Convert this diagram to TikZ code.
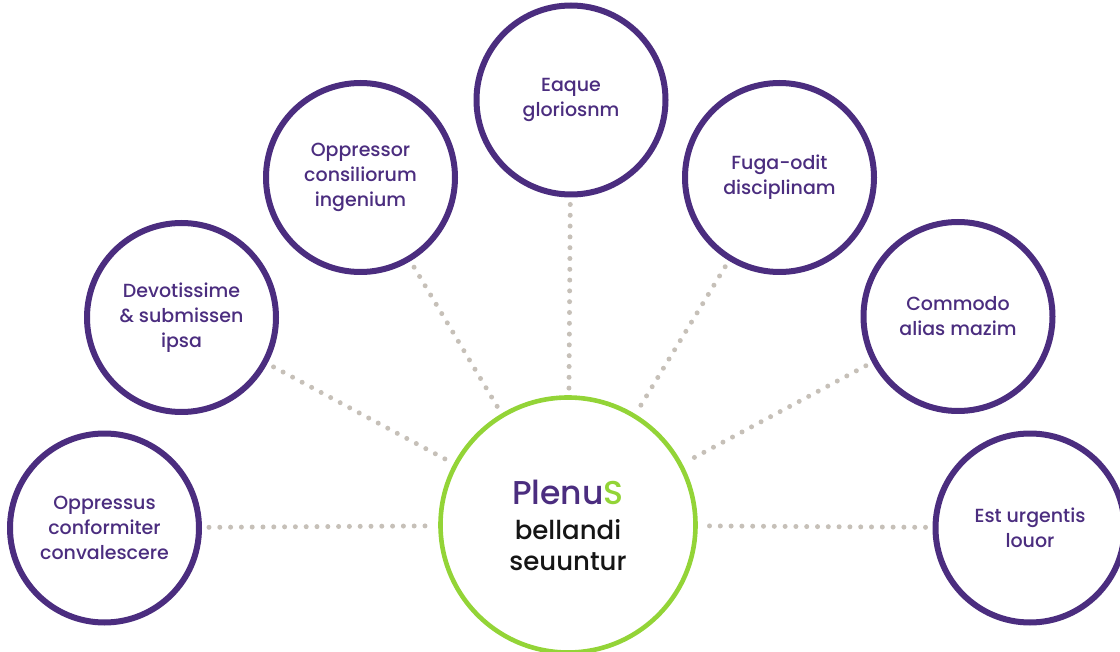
\documentclass[tikz,border=0pt]{standalone}
\usepackage{fontspec}
\setmainfont{Poppins Medium}

\definecolor{plum}{HTML}{4B2D7F}
\definecolor{lime}{HTML}{93D437}
\definecolor{pebble}{HTML}{C6C0B8}
\definecolor{ink}{HTML}{151515}

\begin{document}
\begin{tikzpicture}[x=1pt,y=-1pt,line join=round,
	topic/.style={circle,draw=plum,fill=white,line width=6pt,minimum size=189pt,inner sep=0pt,
		text=plum,align=center,font=\fontsize{19}{25}\selectfont},
	hub/.style={circle,draw=lime,fill=white,line width=4.6pt,minimum size=255pt,inner sep=0pt,
		text=ink,align=center,font=\fontsize{26}{31}\selectfont},
	link/.style={pebble,line width=5pt,line cap=round,dash pattern=on 0pt off 10.8pt,
		shorten <=7pt,shorten >=7pt}]
	\useasboundingbox (0,0) rectangle (1120,652);
	% centre
	\node[hub] (hub) at (568,525) {{\fontsize{33}{35}\selectfont\color{plum}Plenu\textcolor{lime}{S}}\\[4pt]bellandi\\seuuntur};
	% ring of topics
	\foreach \n/\x/\y/\t in {
		t1/104.5/528/{Oppressus\\conformiter\\convalescere},
		t2/181.5/317.5/{Devotissime\\\& submissen\\ipsa},
		t3/360.5/177.5/{Oppressor\\consiliorum\\ingenium},
		t4/571/100/{Eaque\\gloriosnm},
		t5/779.5/177.5/{Fuga-odit\\disciplinam},
		t6/958/316.5/{Commodo\\alias mazim},
		t7/1030/528/{Est urgentis\\louor}}
	\node[topic] (\n) at (\x,\y) {\t};
	\foreach \n in {t1,t2,t3,t4,t5,t6,t7}
	\draw[link] (\n) -- (hub);
\end{tikzpicture}
\end{document}
